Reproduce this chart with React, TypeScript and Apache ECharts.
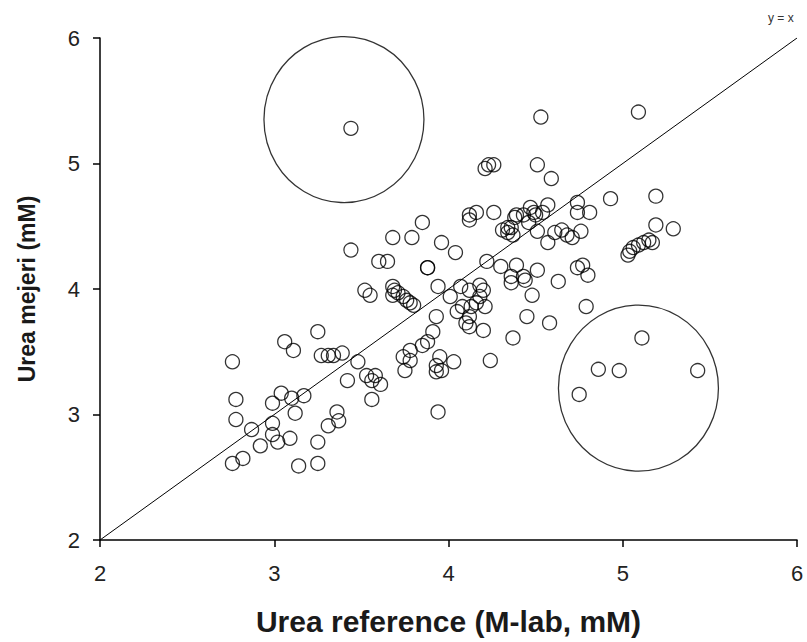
import React, { useEffect, useRef } from "react";
import * as echarts from "echarts";

// Urea reference (M-lab, mM)
const refValues = [
  2.76, 2.78, 2.78, 2.87, 2.99, 2.99, 3.04, 3.10, 3.17, 3.12,
  2.92, 3.02, 3.09, 2.99, 3.25, 3.36, 3.37, 3.31, 2.76, 2.82,
  3.14, 3.25, 3.25, 3.06, 3.11, 3.27, 3.31, 3.34, 3.39, 3.48,
  3.53, 3.58, 3.56, 3.61, 3.42, 3.56, 3.44, 3.68, 3.79, 3.85,
  3.60, 3.65, 3.88, 3.88, 3.96, 4.04, 3.52, 3.55, 3.68, 3.69,
  3.71, 3.74, 3.76, 3.78, 3.80, 3.68, 3.94, 4.01, 4.07, 4.12,
  4.18, 4.20, 4.18, 4.16, 4.13, 4.08, 4.05, 4.21, 4.12, 4.10,
  4.12, 4.20, 4.36, 4.45, 4.37, 3.93, 3.91, 3.88, 3.85, 3.78,
  3.74, 3.78, 3.75, 3.95, 3.93, 3.96, 4.03, 3.93, 4.24, 3.94,
  4.23, 4.26, 4.21, 4.51, 4.59, 4.53, 5.09, 4.12, 4.12, 4.16,
  4.26, 4.34, 4.36, 4.31, 4.34, 4.39, 4.43, 4.47, 4.49, 4.46,
  4.37, 4.57, 4.54, 4.50, 4.51, 4.57, 4.61, 4.65, 4.68, 4.71,
  4.76, 4.74, 4.74, 4.81, 4.93, 5.19, 5.19, 5.29, 5.03, 5.04,
  5.06, 5.09, 5.12, 5.15, 5.17, 4.22, 4.30, 4.39, 4.36, 4.43,
  4.51, 4.48, 4.63, 4.74, 4.77, 4.80, 4.79, 4.58, 5.11, 4.86,
  4.98, 5.43, 4.75, 3.44, 4.38, 4.44,
];

// Urea mejeri (mM)
const mejeriValues = [
  3.42, 3.12, 2.96, 2.88, 2.93, 3.09, 3.17, 3.13, 3.15, 3.01,
  2.75, 2.78, 2.81, 2.84, 2.78, 3.02, 2.95, 2.91, 2.61, 2.65,
  2.59, 2.61, 3.66, 3.58, 3.51, 3.47, 3.47, 3.47, 3.49, 3.42,
  3.31, 3.31, 3.27, 3.24, 3.27, 3.12, 4.31, 4.41, 4.41, 4.53,
  4.22, 4.22, 4.17, 4.17, 4.37, 4.29, 3.99, 3.95, 4.02, 3.99,
  3.97, 3.94, 3.91, 3.89, 3.87, 3.95, 4.02, 3.94, 4.02, 3.99,
  4.03, 3.99, 3.94, 3.89, 3.86, 3.86, 3.82, 3.86, 3.78, 3.73,
  3.70, 3.67, 4.05, 3.78, 3.61, 3.78, 3.66, 3.58, 3.55, 3.51,
  3.46, 3.43, 3.35, 3.46, 3.39, 3.35, 3.42, 3.34, 3.43, 3.02,
  4.99, 4.99, 4.96, 4.99, 4.88, 5.37, 5.41, 4.59, 4.55, 4.61,
  4.61, 4.49, 4.49, 4.47, 4.45, 4.59, 4.59, 4.65, 4.61, 4.53,
  4.43, 4.67, 4.61, 4.59, 4.46, 4.37, 4.45, 4.47, 4.43, 4.41,
  4.46, 4.69, 4.61, 4.61, 4.72, 4.74, 4.51, 4.48, 4.27, 4.30,
  4.33, 4.35, 4.37, 4.39, 4.37, 4.22, 4.18, 4.19, 4.10, 4.10,
  4.15, 3.95, 4.06, 4.17, 4.19, 4.11, 3.86, 3.73, 3.61, 3.36,
  3.35, 3.35, 3.16, 5.28, 4.57, 4.07,
];

// identity line y = x
const identityLine = [
  [2, 2],
  [6, 6],
];

// highlighted outlier regions (centres)
const outlierCircleX = [3.4, 5.09];
const outlierCircleY = [5.35, 3.21];

const axisTicks = [2, 3, 4, 5, 6];

export default function App() {
  const ref = useRef<HTMLDivElement>(null);

  useEffect(() => {
    if (!ref.current) return;
    document.body.style.margin = "0";
    const chart = echarts.init(ref.current, undefined, { renderer: "svg" });
    const font = "'Liberation Sans', Arial, sans-serif";
    const points = refValues.map((x, i) => [x, mejeriValues[i]]);
    const circles = outlierCircleX.map((x, i) => [x, outlierCircleY[i]]);

    chart.setOption({
      animation: false,
      backgroundColor: "#ffffff",
      grid: { left: 100, right: 10, top: 38, bottom: 102 },
      xAxis: {
        type: "value",
        min: axisTicks[0],
        max: axisTicks[axisTicks.length - 1],
        interval: 1,
        name: "Urea reference (M-lab, mM)",
        nameLocation: "middle",
        nameGap: 66,
        nameTextStyle: {
          fontFamily: font,
          fontWeight: "bold",
          fontSize: 30,
          color: "#1a1a1a",
        },
        axisLine: { show: true, onZero: false, lineStyle: { color: "#000", width: 1.5 } },
        axisTick: { show: true, length: 7, lineStyle: { color: "#000", width: 1.5 } },
        axisLabel: {
          fontFamily: font,
          fontSize: 22,
          color: "#222",
          margin: 22,
          showMaxLabel: true,
        },
        splitLine: { show: false },
      },
      yAxis: {
        type: "value",
        min: axisTicks[0],
        max: axisTicks[axisTicks.length - 1],
        interval: 1,
        name: "Urea mejeri (mM)",
        nameLocation: "middle",
        nameGap: 62,
        nameRotate: 90,
        nameTextStyle: {
          fontFamily: font,
          fontWeight: "bold",
          fontSize: 23,
          color: "#1a1a1a",
        },
        axisLine: { show: true, onZero: false, lineStyle: { color: "#000", width: 1.5 } },
        axisTick: { show: true, length: 7, lineStyle: { color: "#000", width: 1.5 } },
        axisLabel: {
          fontFamily: font,
          fontSize: 22,
          color: "#222",
          margin: 20,
        },
        splitLine: { show: false },
      },
      graphic: [
        {
          type: "text",
          left: 768,
          top: 12,
          style: {
            text: "y = x",
            fontFamily: font,
            fontSize: 12,
            fill: "#333",
          },
        },
      ],
      series: [
        {
          type: "line",
          data: identityLine,
          symbol: "none",
          lineStyle: { color: "#000", width: 1 },
          silent: true,
          z: 1,
        },
        {
          type: "scatter",
          data: points,
          symbol: "circle",
          symbolSize: 14,
          itemStyle: { color: "rgba(0,0,0,0)", borderColor: "#000", borderWidth: 1.3 },
          z: 3,
        },
        {
          type: "scatter",
          data: circles,
          symbol: "circle",
          symbolSize: [160, 166],
          itemStyle: { color: "rgba(0,0,0,0)", borderColor: "#000", borderWidth: 1.3 },
          silent: true,
          z: 2,
        },
      ],
    });

    return () => chart.dispose();
  }, []);

  return <div ref={ref} style={{ width: 807, height: 642 }} />;
}
